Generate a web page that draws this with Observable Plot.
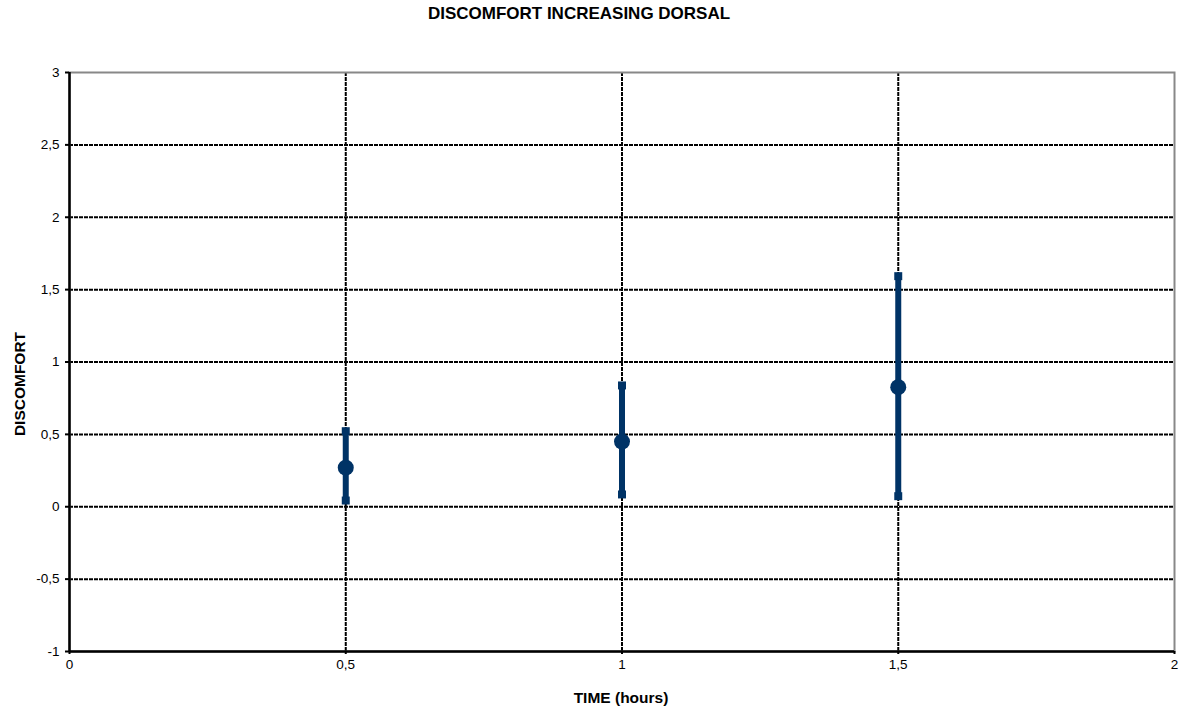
<!DOCTYPE html>
<html>
<head>
<meta charset="utf-8">
<script src="https://cdn.jsdelivr.net/npm/d3@7"></script>
<script src="https://cdn.jsdelivr.net/npm/@observablehq/plot@0.6"></script>
<style>
  html, body { margin: 0; padding: 0; background: #fff; }
  svg { font-family: "Liberation Sans", Arial, sans-serif; }
</style>
</head>
<body>
<div id="chart"></div>
<script>
const title = "DISCOMFORT INCREASING DORSAL";
const xLabel = "TIME (hours)";
const yLabel = "DISCOMFORT";
const times = [0.5, 1, 1.5];
const means = [0.27, 0.45, 0.826];
const lows = [0.043, 0.085, 0.073];
const highs = [0.522, 0.838, 1.593];
const xTicks = [0, 0.5, 1, 1.5, 2];
const yTicks = [-1, -0.5, 0, 0.5, 1, 1.5, 2, 2.5, 3];

const data = times.map((t, i) => ({time: t, mean: means[i], lo: lows[i], hi: highs[i]}));
const fmt = d => String(d).replace(".", ",");
const navy = "#003366";

const chart = Plot.plot({
  width: 1184,
  height: 711,
  marginTop: 72,
  marginBottom: 60,
  marginLeft: 69,
  marginRight: 10,
  style: {fontFamily: '"Liberation Sans", Arial, sans-serif', fontSize: "13.5px", background: "#fff"},
  x: {domain: [0, 2]},
  y: {domain: [-1, 3]},
  marks: [
    Plot.ruleY(yTicks.filter(d => d > -1 && d < 3), {stroke: "#000", strokeWidth: 2, strokeDasharray: "4,1"}),
    Plot.ruleX(xTicks.filter(d => d > 0 && d < 2), {stroke: "#000", strokeWidth: 2, strokeDasharray: "4,1"}),
    Plot.frame({stroke: "#888", strokeWidth: 2}),
    Plot.ruleY([-1], {stroke: "#000", strokeWidth: 2.5}),
    Plot.ruleX([0], {stroke: "#000", strokeWidth: 2.5}),
    Plot.axisY({ticks: yTicks, tickFormat: fmt, tickSize: 4, tickPadding: 6, label: null, fontSize: 13.5, stroke: "#000", strokeWidth: 2}),
    Plot.axisX({ticks: xTicks, tickFormat: fmt, tickSize: 3, tickPadding: 5, label: null, fontSize: 13.5, stroke: "#000", strokeWidth: 2}),
    Plot.ruleX(data, {x: "time", y1: "lo", y2: "hi", stroke: navy, strokeWidth: 6}),
    Plot.dot(data, {x: "time", y: "lo", symbol: "square", r: 4.5, fill: navy, stroke: "none"}),
    Plot.dot(data, {x: "time", y: "hi", symbol: "square", r: 4.5, fill: navy, stroke: "none"}),
    Plot.dot(data, {x: "time", y: "mean", r: 8, fill: navy, stroke: "none"}),
    Plot.text([title], {frameAnchor: "top", dy: -59, dx: -43, textAnchor: "middle", lineAnchor: "middle", fontWeight: "bold", fontSize: 17, fill: "#000"}),
    Plot.text([xLabel], {frameAnchor: "bottom", dy: 47, dx: -1, textAnchor: "middle", lineAnchor: "middle", fontWeight: "bold", fontSize: 15.5, fill: "#000"}),
    Plot.text([yLabel], {frameAnchor: "left", dx: -49, dy: 22, rotate: -90, textAnchor: "middle", lineAnchor: "middle", fontWeight: "bold", fontSize: 15.5, fill: "#000"})
  ]
});
document.getElementById("chart").appendChild(chart);
</script>
</body>
</html>
